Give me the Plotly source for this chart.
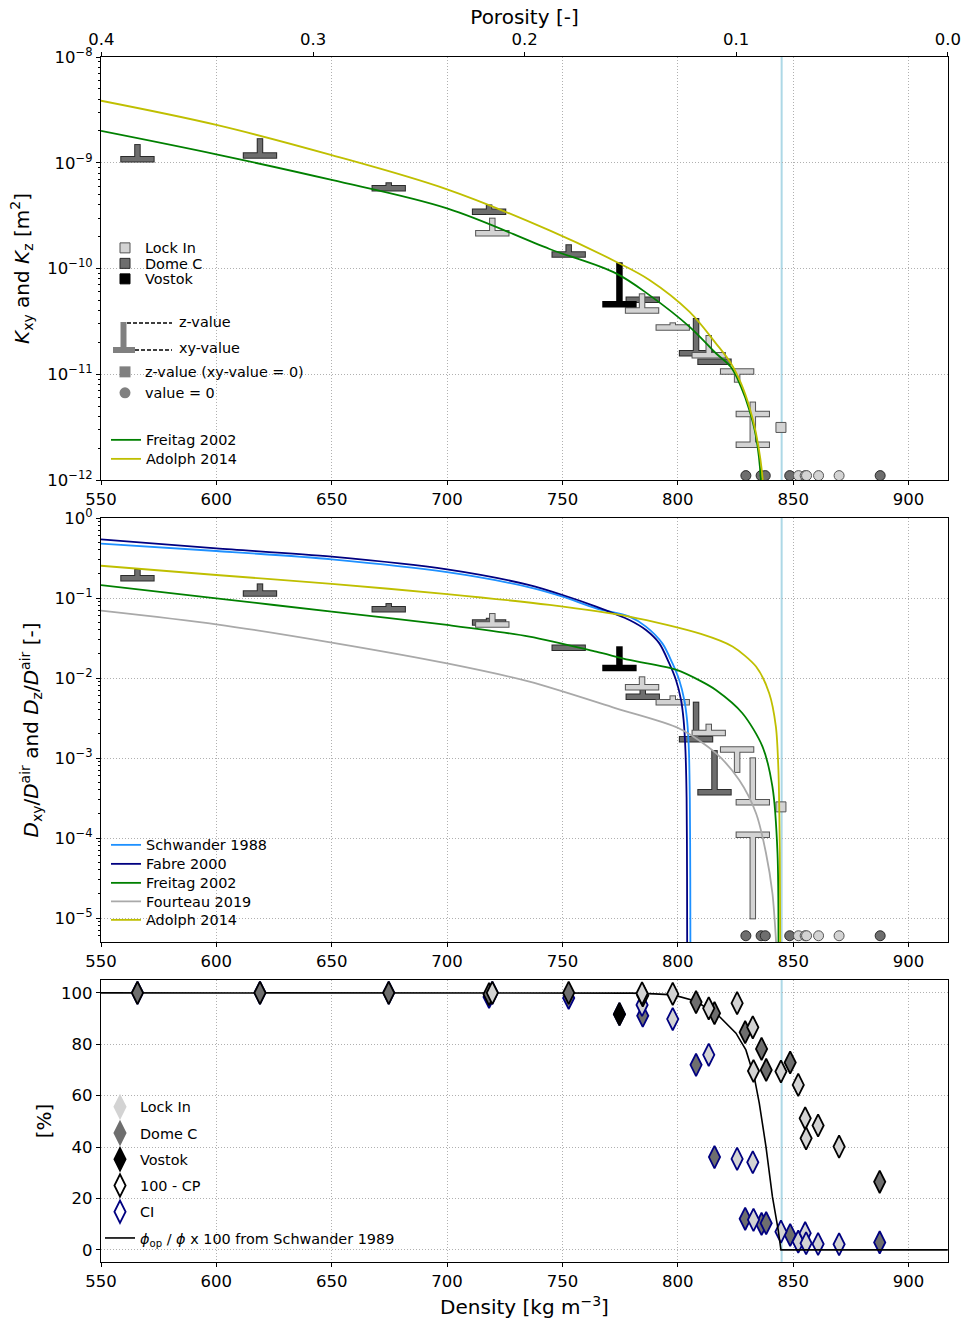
import plotly.graph_objects as go

RHO_ICE = 917.0
CLOSE_OFF = 845.0

# ---------------- data ----------------
# permeability (K) and diffusivity (D) : xy-value = bar, z-value = end of stem
lockin_density = [719.6, 784.5, 797.8, 813.4, 825.7, 832.5, 832.5]
lockin_kxy = [2.15e-10, 4.0e-11, 2.77e-11, 1.51e-11, 1.06e-11, 4.2e-12, 2.16e-12]
lockin_kz = [2.96e-10, 5.7e-11, 3.03e-11, 2.3e-11, 8.5e-12, 5.4e-12, 4.2e-12]
lockin_dxy = [0.0466, 0.00764, 0.00498, 0.00206, 1.28e-3, 2.79e-4, 1.1e-4]
lockin_dz = [0.063, 0.0102, 0.0059, 0.00261, 6.7e-4, 9.9e-4, 9.9e-6]
lockin_zonly_density = [844.7]
lockin_zonly_k = [3.14e-12]
lockin_zonly_d = [2.45e-4]
lockin_zero_density = [852.3, 855.2, 855.8, 861.0, 869.9]

domec_density = [565.8, 618.9, 674.7, 718.2, 752.7, 784.8, 807.9, 815.9]
domec_kxy = [1.08e-9, 1.17e-9, 5.75e-10, 3.44e-10, 1.36e-10, 5.07e-11, 1.58e-11, 1.31e-11]
domec_kz = [1.47e-9, 1.67e-9, 6.4e-10, 3.95e-10, 1.66e-10, 5.07e-11, 3.33e-11, 1.31e-11]
domec_dxy = [0.177, 0.114, 0.0722, 0.0494, 0.0238, 0.00584, 0.00171, 3.72e-4]
domec_dz = [0.224, 0.148, 0.084, 0.055, 0.0238, 0.0075, 0.00492, 1.22e-3]
domec_zero_density = [829.5, 836.1, 837.9, 848.5, 887.7]

vostok_density = [774.7]
vostok_kxy = [4.6e-11]
vostok_kz = [1.12e-10]
vostok_dxy = [0.0133]
vostok_dz = [0.0242]

# open porosity fractions [%]
lockin_pct_density = [719.6, 784.5, 797.8, 813.4, 825.7, 832.5, 832.8, 844.7, 852.2, 855.2, 855.6, 860.8, 869.9]
lockin_open = [100, 99.8, 99.6, 94.0, 96.0, 86.6, 69.6, 69.4, 64.2, 51.2, 43.4, 48.4, 40.2]
lockin_ci = [100, 95.3, 89.8, 75.9, 35.4, 34.1, 11.7, 7.1, 3.2, 6.5, 2.6, 2.3, 2.2]
domec_pct_density = [565.8, 618.9, 674.7, 718.2, 752.7, 784.8, 807.9, 815.9, 829.2, 836.3, 838.3, 848.7, 887.5]
domec_open = [100, 100, 100, 99.5, 100, 99, 96.4, 92.1, 84.7, 78.2, 70.0, 72.9, 26.5]
domec_ci = [100, 100, 100, 98.4, 98.0, 91.1, 72.0, 36.1, 12.1, 10.1, 10.4, 5.8, 2.9]
vostok_pct_density = [774.7]
vostok_open = [91.7]
vostok_ci = [91.7]

# model curves
freitag_k_density = [550, 600, 650, 700, 744.4, 773.2, 787.7, 805, 816.5, 823, 827.4, 831, 833.9, 836, 836.6]
freitag_k = [2.0e-9, 1.2e-9, 6.87e-10, 3.7e-10, 1.53e-10, 9.0e-11, 5.6e-11, 2.82e-11, 1.58e-11,
             1.17e-11, 7.6e-12, 4.6e-12, 2.57e-12, 1.0e-12, 1e-13]
adolph_k_density = [550, 600, 650, 700, 744.4, 773.2, 787.7, 805, 816.5, 823, 827.4, 831, 833.9, 836.8, 837.4]
adolph_k = [3.86e-9, 2.28e-9, 1.18e-9, 5.6e-10, 2.29e-10, 1.16e-10, 7.8e-11, 3.91e-11, 1.96e-11,
            1.27e-11, 8.2e-12, 4.93e-12, 2.76e-12, 1.0e-12, 1e-13]

schwander_density = [550, 600, 650, 700, 735.7, 750.1, 764.6, 779, 786.2, 793.3, 797.7, 800.6,
                     802.8, 804, 804.8, 805.2, 805.4, 805.5]
schwander_d = [0.477, 0.387, 0.304, 0.21, 0.136, 0.104, 0.0743, 0.0585, 0.0439, 0.0271, 0.0152,
               0.00944, 0.00531, 0.00299, 0.00126, 3.2e-4, 3.2e-5, 1e-6]
fabre_density = [550, 600, 650, 700, 735.7, 750.1, 764.6, 779, 786.2, 792, 796.3, 799.2, 801.4,
                 802.5, 803.3, 803.8, 804.0, 804.1]
fabre_d = [0.54, 0.418, 0.329, 0.228, 0.145, 0.109, 0.078, 0.0531, 0.0398, 0.0271, 0.0152, 0.00944,
           0.00531, 0.00299, 0.00126, 3.2e-4, 3.2e-5, 1e-6]
freitag_d_density = [550, 600, 650, 700, 735.7, 764.6, 779, 799.2, 810.4, 816.5, 828, 836.7, 841, 843.2, 843.6]
freitag_d = [0.145, 0.099, 0.0675, 0.046, 0.0329, 0.0213, 0.0168, 0.0127, 0.009, 0.00708, 0.00363,
             0.00139, 4.39e-4, 6.5e-5, 1e-6]
fourteau_density = [550, 600, 650, 700, 735.7, 773.2, 800.6, 816.5, 826.6, 833.9, 838.2, 841, 843]
fourteau_d = [0.0695, 0.0469, 0.0277, 0.0152, 0.009, 0.00418, 0.00234, 0.00115, 5.3e-4, 2.04e-4,
              6.5e-5, 2.04e-5, 3.2e-6]
adolph_d_density = [550, 600, 650, 700, 744.4, 779, 810, 823.7, 833.9, 839.6, 842.5, 843.6, 844.2, 844.5]
adolph_d = [0.253, 0.194, 0.15, 0.112, 0.0818, 0.0585, 0.0355, 0.0247, 0.0139, 0.00646, 0.00247,
            7.1e-4, 6.5e-5, 1e-6]

schw89_density = [550, 780, 790, 798, 808, 818, 825.2, 829.5, 833.1, 835.3, 838.2, 841, 843.5, 844.7, 917]
schw89_pct = [100, 99.9, 99.6, 99.2, 96.7, 90.8, 84.3, 77.8, 67.4, 57.1, 40.2, 20.7, 7.8, 0, 0]

density_ticks = [550, 600, 650, 700, 750, 800, 850, 900]
porosity_ticks = [0.4, 0.3, 0.2, 0.1, 0.0]

# ---------------- styles ----------------
FONT = "DejaVu Sans"
LOCKIN = "#d3d3d3"
DOMEC = "#6e6e6e"
VOSTOK = "#000000"
EDGE = {"lockin": "#555555", "domec": "#2b2b2b", "vostok": "#000000"}
ZERO_K = 1.1e-12   # where "value = 0" dots sit
ZERO_D = 6e-6
HW = 7.0           # half width of the xy bar (kg m-3)
XMAX = RHO_ICE + 0.1

# plot box sits at x 101-948, y 57-1262 (body margin removed below)
W, H = 964, 1320
L, R, T, B = 101, 16, 57, 58

fig = go.Figure()


def px_x(px):
    return (px - L) / (W - L - R)


def px_y(py):
    return (H - B - py) / (H - T - B)


def t_marks(density, xy, z, fill, edge, xa, ya, px_per_decade):
    pad = 10 ** (1.0 / px_per_decade)
    ox, oy, fx, fy = [], [], [], []
    for d, a, b in zip(density, xy, z):
        if b != a:
            end = b * pad if b > a else b / pad
            ox += [d, d, None]
            oy += [a, end, None]
            fx += [d, d, None]
            fy += [a, b, None]
        ox += [d - HW - 0.45, d + HW + 0.45, None]
        oy += [a, a, None]
        fx += [d - HW, d + HW, None]
        fy += [a, a, None]
    fig.add_trace(go.Scatter(x=ox, y=oy, mode="lines", line=dict(color=edge, width=6.5),
                             xaxis=xa, yaxis=ya, showlegend=False, hoverinfo="skip"))
    fig.add_trace(go.Scatter(x=fx, y=fy, mode="lines", line=dict(color=fill, width=4.5),
                             xaxis=xa, yaxis=ya, showlegend=False, hoverinfo="skip"))


def zero_dots(density, yval, fill, edge, xa, ya):
    fig.add_trace(go.Scatter(x=density, y=[yval] * len(density), mode="markers",
                             marker=dict(symbol="circle", size=10, color=fill, line=dict(color=edge, width=1)),
                             xaxis=xa, yaxis=ya, showlegend=False))


def curve(x, y, color, name, xa, ya, legend, smooth=1.0):
    fig.add_trace(go.Scatter(x=x, y=y, mode="lines", name=name,
                             line=dict(color=color, width=1.8, shape="spline", smoothing=smooth),
                             xaxis=xa, yaxis=ya, legend=legend))


# legend boxes: symbol-centre x, item-centre y in page pixels
legends = {}


def add_legend(key, sx, cy, **extra):
    legends[key] = dict(x=px_x(sx - 20), y=px_y(cy - 16), xanchor="left", yanchor="top",
                        bgcolor="rgba(0,0,0,0)", font=dict(family=FONT, size=14.4, color="black"), **extra)


# ---------- panel 1 : permeability ----------
t_marks(domec_density, domec_kxy, domec_kz, DOMEC, EDGE["domec"], "x", "y", 105.75)
t_marks(lockin_density, lockin_kxy, lockin_kz, LOCKIN, EDGE["lockin"], "x", "y", 105.75)
t_marks(vostok_density, vostok_kxy, vostok_kz, VOSTOK, EDGE["vostok"], "x", "y", 105.75)
fig.add_trace(go.Scatter(x=lockin_zonly_density, y=lockin_zonly_k, mode="markers",
                         marker=dict(symbol="square", size=10, color=LOCKIN, line=dict(color=EDGE["lockin"], width=1)),
                         xaxis="x", yaxis="y", showlegend=False))
zero_dots(domec_zero_density, ZERO_K, DOMEC, EDGE["domec"], "x", "y")
zero_dots(lockin_zero_density, ZERO_K, LOCKIN, EDGE["lockin"], "x", "y")
curve(freitag_k_density, freitag_k, "#008000", "Freitag 2002", "x", "y", "legend6")
curve(adolph_k_density, adolph_k, "#bfbf00", "Adolph 2014", "x", "y", "legend7")
add_legend("legend6", 126, 440)
add_legend("legend7", 126, 459)

# invisible trace so the porosity axis on top is drawn
fig.add_trace(go.Scatter(x=[None], y=[None], xaxis="x4", yaxis="y", showlegend=False, hoverinfo="skip"))

# legend-only entries for panel 1
for key, cy, name, fill, edge in [("legend", 248, "Lock In", LOCKIN, EDGE["lockin"]),
                                  ("legend2", 263.5, "Dome C", DOMEC, EDGE["domec"]),
                                  ("legend3", 279, "Vostok", VOSTOK, EDGE["vostok"])]:
    fig.add_trace(go.Scatter(x=[None], y=[None], mode="markers", name=name,
                             marker=dict(symbol="square", size=10, color=fill, line=dict(color=edge, width=1)),
                             xaxis="x", yaxis="y", legend=key))
    add_legend(key, 125, cy)
for key, cy, name, sym in [("legend4", 372, "z-value (xy-value = 0)", "square"),
                           ("legend5", 393, "value = 0", "circle")]:
    fig.add_trace(go.Scatter(x=[None], y=[None], mode="markers", name=name,
                             marker=dict(symbol=sym, size=11, color="#808080"),
                             xaxis="x", yaxis="y", legend=key))
    add_legend(key, 125, cy)

# ---------- panel 2 : diffusivity ----------
t_marks(domec_density, domec_dxy, domec_dz, DOMEC, EDGE["domec"], "x2", "y2", 80.0)
t_marks(lockin_density, lockin_dxy, lockin_dz, LOCKIN, EDGE["lockin"], "x2", "y2", 80.0)
t_marks(vostok_density, vostok_dxy, vostok_dz, VOSTOK, EDGE["vostok"], "x2", "y2", 80.0)
fig.add_trace(go.Scatter(x=lockin_zonly_density, y=lockin_zonly_d, mode="markers",
                         marker=dict(symbol="square", size=10, color=LOCKIN, line=dict(color=EDGE["lockin"], width=1)),
                         xaxis="x2", yaxis="y2", showlegend=False))
zero_dots(domec_zero_density, ZERO_D, DOMEC, EDGE["domec"], "x2", "y2")
zero_dots(lockin_zero_density, ZERO_D, LOCKIN, EDGE["lockin"], "x2", "y2")
curve(schwander_density, schwander_d, "#1e90ff", "Schwander 1988", "x2", "y2", "legend8", 0.8)
curve(fabre_density, fabre_d, "#000080", "Fabre 2000", "x2", "y2", "legend9", 0.8)
curve(freitag_d_density, freitag_d, "#008000", "Freitag 2002", "x2", "y2", "legend10", 0.8)
curve(fourteau_density, fourteau_d, "#a9a9a9", "Fourteau 2019", "x2", "y2", "legend11", 0.8)
curve(adolph_d_density, adolph_d, "#bfbf00", "Adolph 2014", "x2", "y2", "legend12", 0.8)
for key, cy in [("legend8", 845), ("legend9", 864), ("legend10", 883), ("legend11", 901.5), ("legend12", 920)]:
    add_legend(key, 126, cy)


# ---------- panel 3 : open / closed porosity ----------
def diamonds(x, y, fill, edge):
    fig.add_trace(go.Scatter(x=x, y=y, mode="markers",
                             marker=dict(symbol="diamond-tall", size=16, color=fill, line=dict(color=edge, width=1.8)),
                             xaxis="x3", yaxis="y3", showlegend=False))


diamonds(domec_pct_density, domec_ci, DOMEC, "#000080")
diamonds(lockin_pct_density, lockin_ci, LOCKIN, "#000080")
diamonds(vostok_pct_density, vostok_ci, VOSTOK, "#000080")
fig.add_trace(go.Scatter(x=schw89_density, y=schw89_pct, mode="lines", showlegend=False,
                         line=dict(color="black", width=1.6), xaxis="x3", yaxis="y3"))
diamonds(domec_pct_density, domec_open, DOMEC, "black")
diamonds(lockin_pct_density, lockin_open, LOCKIN, "black")
diamonds(vostok_pct_density, vostok_open, VOSTOK, "black")

for i, (name, fill, edge) in enumerate([("Lock In", LOCKIN, LOCKIN), ("Dome C", DOMEC, DOMEC),
                                        ("Vostok", VOSTOK, VOSTOK), ("100 - CP", "white", "black"),
                                        ("CI", "white", "#000080")]):
    fig.add_trace(go.Scatter(x=[None], y=[None], mode="markers", name=name, legendgroup=f"g{i}",
                             marker=dict(symbol="diamond-tall", size=16, color=fill, line=dict(color=edge, width=1.8)),
                             xaxis="x3", yaxis="y3", legend="legend13"))
fig.add_trace(go.Scatter(x=[None], y=[None], mode="lines", legendgroup="g5",
                         name="<i>ϕ</i><sub>op</sub> / <i>ϕ</i> x 100 from Schwander 1989",
                         line=dict(color="black", width=1.6), xaxis="x3", yaxis="y3", legend="legend13"))
add_legend("legend13", 120, 1107, tracegroupgap=4.5)


# ---------------- layout ----------------
def sup(e):
    return "10<sup>" + str(e).replace("-", "−") + "</sup>"


def minor_vals(lo, hi):
    return [m * 10.0 ** e for e in range(lo, hi) for m in range(2, 10)]


tickfont = dict(family=FONT, size=16.5, color="black")
titlefont = dict(family=FONT, size=20, color="black")
grid = dict(showgrid=True, gridcolor="#b0b0b0", griddash="1px,2px", gridwidth=1)
axline = dict(showline=True, linecolor="black", linewidth=1.2, mirror=True, ticks="outside",
              ticklen=4, tickcolor="black", zeroline=False, tickfont=tickfont, automargin=False)

xcommon = dict(range=[550, XMAX], tickmode="array", tickvals=density_ticks, **grid, **axline)
minor_style = dict(ticks="outside", ticklen=2, tickcolor="black", showgrid=False)

layout = dict(
    width=W, height=H, margin=dict(l=L, r=R, t=T, b=B, autoexpand=False),
    paper_bgcolor="white", plot_bgcolor="white",
    font=dict(family=FONT, size=14.4, color="black"),
    xaxis=dict(anchor="y", domain=[0, 1], **xcommon),
    xaxis2=dict(anchor="y2", domain=[0, 1], **xcommon),
    xaxis3=dict(anchor="y3", domain=[0, 1], title=dict(text="Density [kg m<sup>−3</sup>]", font=titlefont, standoff=10),
                **xcommon),
    xaxis4=dict(overlaying="x", side="top", anchor="y", range=[550, XMAX], tickmode="array",
                tickvals=[RHO_ICE * (1 - p) for p in porosity_ticks], ticktext=[f"{p:.1f}" for p in porosity_ticks],
                showgrid=False, showline=False, ticks="outside", ticklen=4, tickcolor="black", tickfont=tickfont,
                zeroline=False, automargin=False, ticklabeloverflow="allow",
                title=dict(text="Porosity [-]", font=titlefont, standoff=0)),
    yaxis=dict(anchor="x", domain=[px_y(480), 1], type="log", range=[-12, -8], tickmode="array",
               tickvals=[10.0 ** e for e in range(-12, -7)], ticktext=[sup(e) for e in range(-12, -7)],
               minor=dict(tickvals=minor_vals(-12, -8), **minor_style),
               title=dict(text="<i>K</i><sub>xy</sub> and <i>K</i><sub>z</sub> [m<sup>2</sup>]", font=titlefont, standoff=12),
               **grid, **axline),
    yaxis2=dict(anchor="x2", domain=[px_y(942), px_y(518)], type="log", range=[-5.3, 0], tickmode="array",
                tickvals=[10.0 ** e for e in range(-5, 1)], ticktext=[sup(e) for e in range(-5, 1)],
                minor=dict(tickvals=minor_vals(-6, 0), **minor_style),
                title=dict(text="<i>D</i><sub>xy</sub>/<i>D</i><sup>air</sup> and <i>D</i><sub>z</sub>/<i>D</i><sup>air</sup> [-]",
                           font=titlefont, standoff=10),
                **grid, **axline),
    yaxis3=dict(anchor="x3", domain=[0, px_y(980)], range=[-4.7, 105], tickmode="array",
                tickvals=[0, 20, 40, 60, 80, 100],
                title=dict(text="[%]", font=titlefont, standoff=4), **grid, **axline),
    **legends,
)
fig.update_layout(**layout)

# close-off density line in every panel
for xa in ["x", "x2", "x3"]:
    ya = "y" + xa[1:]
    fig.add_shape(type="line", xref=xa, yref=ya + " domain", x0=CLOSE_OFF, x1=CLOSE_OFF, y0=0, y1=1,
                  line=dict(color="#add8e6", width=2), layer="below")

# key for the T-shaped markers (panel 1 legend)
grey = "#808080"
fig.add_shape(type="rect", xref="paper", yref="paper", x0=px_x(120.5), x1=px_x(126.5), y0=px_y(350), y1=px_y(322),
              fillcolor=grey, line=dict(width=0))
fig.add_shape(type="rect", xref="paper", yref="paper", x0=px_x(113), x1=px_x(135), y0=px_y(353), y1=px_y(347),
              fillcolor=grey, line=dict(width=0))
fig.add_shape(type="line", xref="paper", yref="paper", x0=px_x(127), x1=px_x(172), y0=px_y(323), y1=px_y(323),
              line=dict(color="black", width=1.5, dash="4px,2px"))
fig.add_shape(type="line", xref="paper", yref="paper", x0=px_x(135), x1=px_x(172), y0=px_y(350), y1=px_y(350),
              line=dict(color="black", width=1.5, dash="4px,2px"))
fig.add_annotation(xref="paper", yref="paper", x=px_x(177), y=px_y(322), text="z-value", showarrow=False,
                   xanchor="left", yanchor="middle", font=dict(family=FONT, size=14.4, color="black"))
fig.add_annotation(xref="paper", yref="paper", x=px_x(177), y=px_y(348), text="xy-value", showarrow=False,
                   xanchor="left", yanchor="middle", font=dict(family=FONT, size=14.4, color="black"))

# drop the browser's default 8 px body margin so the figure sits at the page origin
fig.write_html("out.html", config={"displayModeBar": False},
               post_script="document.body.style.margin = '0';")
